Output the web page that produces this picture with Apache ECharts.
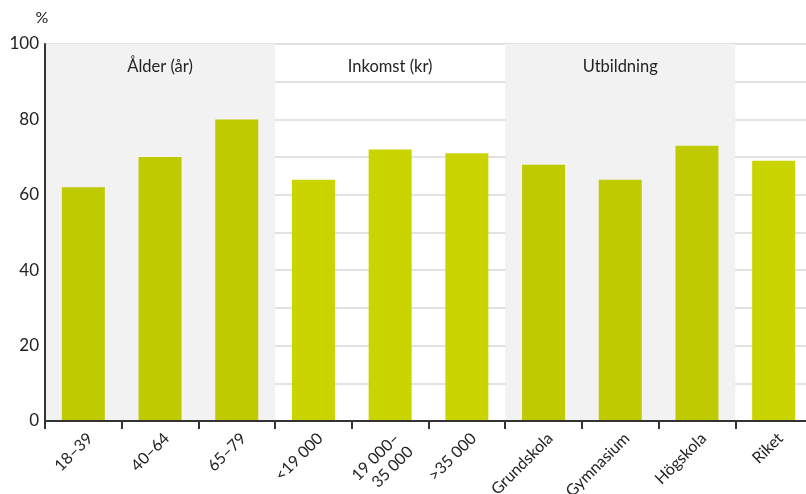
<!DOCTYPE html>
<html>
<head>
<meta charset="utf-8">
<script src="https://cdn.jsdelivr.net/npm/echarts@6/dist/echarts.min.js"></script>
<style>
  html, body { margin: 0; padding: 0; background: #fff; }
  #chart { width: 806px; height: 494px; }
</style>
</head>
<body>
<div id="chart"></div>
<script>
// Categories and values (%)
const categories = ['18–39', '40–64', '65–79', '<19 000', '19 000–\n35 000', '>35 000',
                    'Grundskola', 'Gymnasium', 'Högskola', 'Riket'];
const values = [62, 70, 80, 64, 72, 71, 68, 64, 73, 69];

// Groups: label, first category index, number of categories, shaded band
const groupNames  = ['Ålder (år)', 'Inkomst (kr)', 'Utbildning', ''];
const groupStart  = [0, 3, 6, 9];
const groupSize   = [3, 3, 3, 1];
const groupShaded = [true, false, true, false];

const yTicks = [0, 20, 40, 60, 80, 100];

const FONT = 'Lato, "DejaVu Sans", sans-serif';
const BAR_ON_GREY = '#bfca00';
const BAR_ON_WHITE = '#cad400';

// Per-bar colour follows the band it sits in
function groupOf(i) {
  for (let g = 0; g < groupStart.length; g++) {
    if (i >= groupStart[g] && i < groupStart[g] + groupSize[g]) return g;
  }
  return -1;
}
const barData = values.map((v, i) => ({
  value: v,
  itemStyle: { color: groupShaded[groupOf(i)] ? BAR_ON_GREY : BAR_ON_WHITE }
}));

// Background bands with group headings, on a hidden linear x axis (one unit per category)
const bands = groupNames.map((name, g) => [
  {
    xAxis: groupStart[g],
    name: name,
    itemStyle: { color: groupShaded[g] ? '#f2f2f2' : 'rgba(0,0,0,0)' }
  },
  { xAxis: groupStart[g] + groupSize[g] }
]);

const chart = echarts.init(document.getElementById('chart'));
chart.setOption({
  animation: false,
  textStyle: { fontFamily: FONT },
  grid: {
    left: 45, top: 44, width: 767, height: 377,
    containLabel: false, outerBoundsMode: 'none'
  },
  xAxis: [
    {
      type: 'category',
      data: categories,
      axisLine: { lineStyle: { color: '#333', width: 2 } },
      axisTick: { show: true, length: 8, lineStyle: { color: '#333', width: 2 } },
      axisLabel: {
        rotate: 45, fontSize: 16, color: '#222', fontFamily: FONT,
        margin: 8, lineHeight: 19, interval: 0, align: 'right', verticalAlign: 'top'
      },
      z: 5
    },
    {
      type: 'value', min: 0, max: categories.length, show: false
    }
  ],
  yAxis: {
    type: 'value',
    min: yTicks[0],
    max: yTicks[yTicks.length - 1],
    interval: 20,
    name: '%',
    nameLocation: 'end',
    nameGap: 18,
    nameTextStyle: { fontSize: 16, color: '#222', align: 'center', padding: [0, 0, 0, -6] },
    axisLine: { show: true, lineStyle: { color: '#333', width: 2 } },
    axisTick: { show: false },
    axisLabel: { fontSize: 17, color: '#222', margin: 6 },
    splitLine: { show: true, lineStyle: { color: '#d9d9d9', width: 1.5 } },
    minorTick: { show: false, splitNumber: 2 },
    minorSplitLine: { show: true, lineStyle: { color: '#d9d9d9', width: 1.5 } },
    z: 1
  },
  series: [
    {
      type: 'bar',
      xAxisIndex: 1,
      data: [],
      silent: true,
      z: 0,
      markArea: {
        silent: true,
        data: bands,
        label: {
          show: true,
          position: 'insideTop',
          distance: 14,
          fontSize: 16.5,
          color: '#222',
          fontFamily: FONT
        }
      }
    },
    {
      type: 'bar',
      xAxisIndex: 0,
      data: barData,
      barWidth: 43,
      z: 3
    }
  ]
});
</script>
</body>
</html>
